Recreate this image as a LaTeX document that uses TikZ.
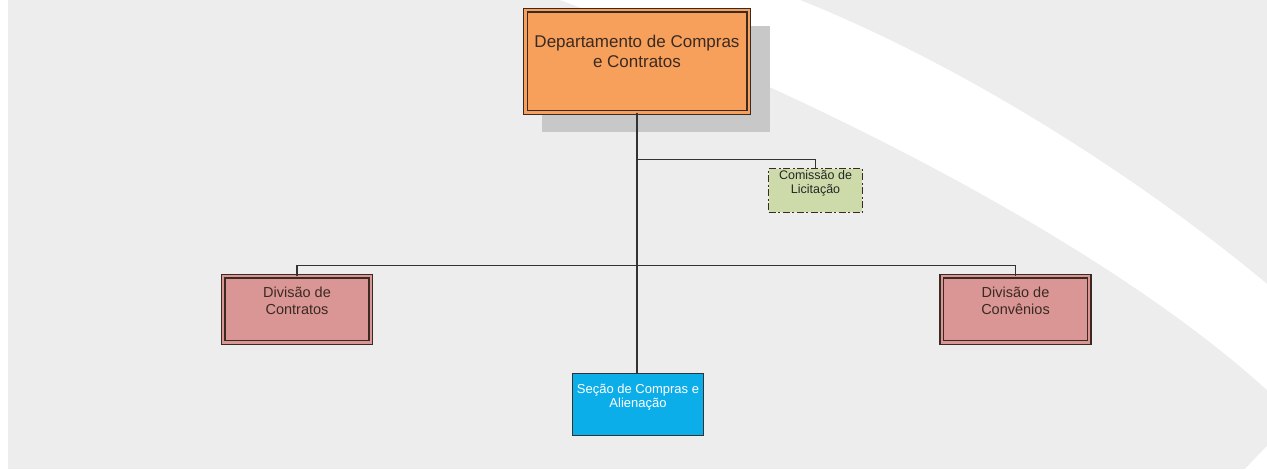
\documentclass[tikz,border=0pt]{standalone}
\usepackage{fontspec}
\setmainfont{Liberation Sans}

\definecolor{bggray}{HTML}{EDEDED}
\definecolor{shadowgray}{HTML}{C8C8C8}
\definecolor{deporange}{HTML}{F7A05B}
\definecolor{divpink}{HTML}{D99694}
\definecolor{comgreen}{HTML}{CDDBAA}
\definecolor{secblue}{HTML}{0CAEEA}
\definecolor{linegray}{HTML}{333333}
\definecolor{boxline}{HTML}{3B2A22}

\begin{document}
\begin{tikzpicture}[x=1pt, y=-1pt]
\tikzset{ inner sep=0pt, outer sep=0pt,
  conn/.style={draw=linegray, line width=1.6pt},
  dblbox/.style={draw=boxline, line width=1.3pt, double distance=2.2pt, align=center},
  deptbox/.style={dblbox, fill=deporange, double=deporange, minimum width=223.2, minimum height=102.2,
     font=\fontsize{17}{20}\selectfont, text=boxline, text depth=20pt},
  divbox/.style={dblbox, fill=divpink, double=divpink, minimum width=147.5, minimum height=66.2,
     font=\fontsize{14.5}{17}\selectfont, text=boxline, text depth=17pt},
  combox/.style={draw=boxline, line width=1.3pt, fill=comgreen, align=center,
     dash pattern=on 7pt off 2.5pt on 2pt off 2.5pt, minimum width=93.8, minimum height=43.8,
     font=\fontsize{12.5}{13.5}\selectfont, text=black!85, text depth=17pt},
  secbox/.style={draw=linegray, line width=1.3pt, fill=secblue, align=center,
     minimum width=130.8, minimum height=61.8,
     font=\fontsize{13}{14}\selectfont, text=white, text depth=18pt},
}

\useasboundingbox (0,0) rectangle (1267,470);

% background with the white swoosh
\fill [white] (0,0) rectangle (1267,470);
\fill [bggray] (8,0) rectangle (1267,469);
\fill [white] (560,0) .. controls (790,85) and (1100,238) .. (1267,390)
   -- (1267,284) .. controls (1130,170) and (955,62) .. (800,0) -- cycle;
\fill [white] (1244,470) -- (1267,446) -- (1267,470) -- cycle;

% shadow of the top box
\fill [shadowgray] (542,26) rectangle (770,132);

\node [deptbox] (dep) at (637,61.5) {Departamento de Compras\\e Contratos};
\node [combox] (com) at (815.5,190.5) {Comissão de\\Licitação};
\node [divbox] (contr) at (297,309.5) {Divisão de\\Contratos};
\node [divbox] (conv) at (1015.5,309.5) {Divisão de\\Convênios};
\node [secbox] (sec) at (638,404.5) {Seção de Compras e\\Alienação};

\coordinate (jcom) at (637,159.5);
\coordinate (jdiv) at (637,265.5);

\draw [conn] (dep.south) -- (dep.south |- sec.north);
\draw [conn] (jcom) -| (com.north);
\draw [conn] (contr.north) |- (jdiv) -| (conv.north);

\end{tikzpicture}
\end{document}
